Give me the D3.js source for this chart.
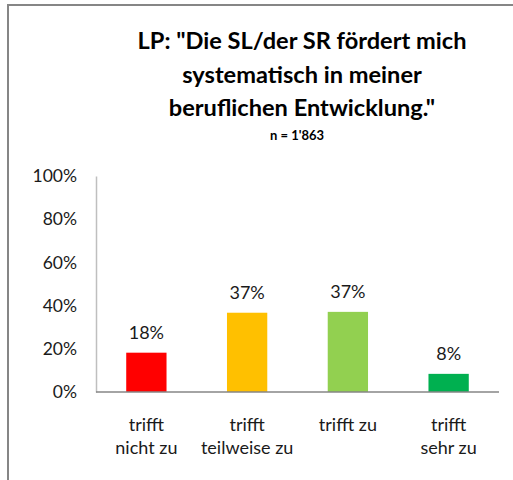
<!DOCTYPE html>
<html>
<head>
<meta charset="utf-8">
<script src="https://cdn.jsdelivr.net/npm/d3@7"></script>
<style>
  body { margin: 0; background: #fff; }
  svg { display: block; font-family: Lato, "Open Sans", sans-serif; }
</style>
</head>
<body>
<div id="chart"></div>
<script>
// data
const categories = [["trifft", "nicht zu"], ["trifft", "teilweise zu"], ["trifft zu"], ["trifft", "sehr zu"]];
const values = [18.2, 36.7, 37.1, 8.4];
const colors = ["#FF0000", "#FFC000", "#92D050", "#00B050"];
const yTicks = [0, 20, 40, 60, 80, 100];
const titleLines = ['LP: "Die SL/der SR fördert mich', "systematisch in meiner", 'beruflichen Entwicklung."'];
const subtitle = "n = 1'863";

const width = 513, height = 480;
const margin = { left: 96, right: 14, top: 176, bottom: 88 };

const svg = d3.select("#chart")
              .append("svg")
              .attr("width", width)
              .attr("height", height);

// outer frame (only left & top visible in the picture)
svg.append("line")
   .attr("x1", 8).attr("x2", 8).attr("y1", 4).attr("y2", height)
   .attr("stroke", "#868686").attr("stroke-width", 2);
svg.append("line")
   .attr("x1", 7).attr("x2", width).attr("y1", 5).attr("y2", 5)
   .attr("stroke", "#868686").attr("stroke-width", 2);

// title
svg.append("text")
   .attr("text-anchor", "middle")
   .attr("font-weight", "bold")
   .attr("font-size", 23.6)
   .attr("fill", "#000")
   .selectAll("tspan")
   .data(titleLines)
   .enter()
   .append("tspan")
   .attr("x", 302)
   .attr("y", (d, i) => 49 + i * 33.5)
   .text(d => d);

svg.append("text")
   .attr("x", 297)
   .attr("y", 140)
   .attr("text-anchor", "middle")
   .attr("font-weight", "bold")
   .attr("font-size", 13)
   .text(subtitle);

const xScale = d3.scaleBand()
                 .domain(d3.range(categories.length))
                 .range([margin.left, width - margin.right])
                 .paddingInner(0.6)
                 .paddingOuter(0.3);
const yScale = d3.scaleLinear()
                 .domain([0, 100])
                 .range([height - margin.bottom, margin.top]);

// y axis
const yAxis = d3.axisLeft(yScale)
                .tickValues(yTicks)
                .tickSize(0)
                .tickPadding(19)
                .tickFormat(d => d + "%");
const gy = svg.append("g")
              .attr("transform", "translate(" + margin.left + ",0)")
              .call(yAxis);
gy.select(".domain").attr("stroke", "#BFBFBF").attr("stroke-width", 1.5);
gy.selectAll("text")
  .attr("font-family", "Lato, 'Open Sans', sans-serif")
  .attr("font-size", 17.5)
  .attr("fill", "#1a1a1a");

// bars
svg.selectAll("rect.bar")
   .data(values)
   .enter()
   .append("rect")
   .attr("class", "bar")
   .attr("x", (d, i) => xScale(i))
   .attr("y", d => yScale(d))
   .attr("width", xScale.bandwidth())
   .attr("height", d => yScale(0) - yScale(d))
   .attr("fill", (d, i) => colors[i]);

// value labels
svg.selectAll("text.val")
   .data(values)
   .enter()
   .append("text")
   .attr("class", "val")
   .attr("x", (d, i) => xScale(i) + xScale.bandwidth() / 2)
   .attr("y", d => yScale(d) - 14)
   .attr("text-anchor", "middle")
   .attr("font-size", 18)
   .attr("fill", "#1a1a1a")
   .text(d => Math.round(d) + "%");

// x axis line
svg.append("line")
   .attr("x1", margin.left).attr("x2", width - margin.right)
   .attr("y1", yScale(0)).attr("y2", yScale(0))
   .attr("stroke", "#868686").attr("stroke-width", 1.5);

// category labels
svg.selectAll("text.cat")
   .data(categories)
   .enter()
   .append("text")
   .attr("class", "cat")
   .attr("text-anchor", "middle")
   .attr("font-size", 18)
   .attr("fill", "#1a1a1a")
   .each(function (d, i) {
       d3.select(this).selectAll("tspan")
         .data(d)
         .enter()
         .append("tspan")
         .attr("x", xScale(i) + xScale.bandwidth() / 2)
         .attr("y", (t, j) => 431 + j * 23)
         .text(t => t);
   });
</script>
</body>
</html>
